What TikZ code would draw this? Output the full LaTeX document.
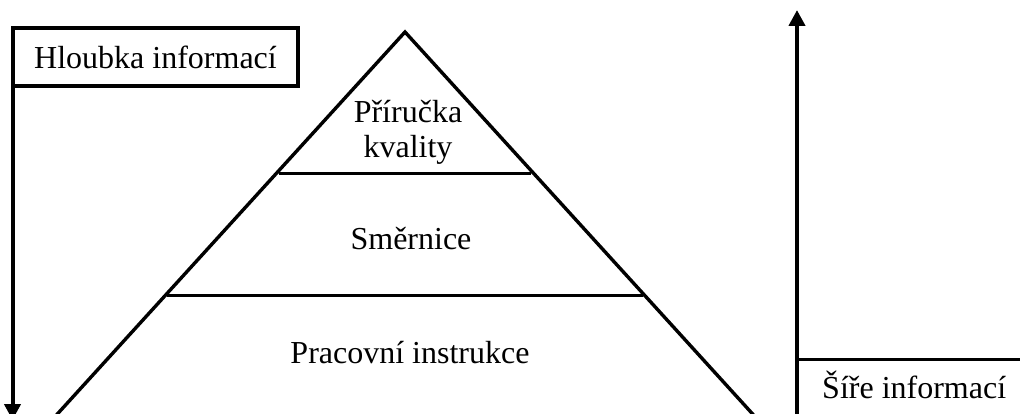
\documentclass[tikz,border=0pt]{standalone}
\usepackage{fontspec}
\setmainfont{Liberation Serif}
\usetikzlibrary{arrows.meta,calc}
\begin{document}
\begin{tikzpicture}[x=1pt,y=-1pt,
  lbl/.style={font=\fontsize{32}{35}\selectfont, inner sep=0pt},
  thick4/.style={line width=4pt},
  tri/.style={line width=3.4pt, line join=miter},
  arr/.style={line width=4pt, -{Triangle[width=16pt,length=16pt]}}]
\useasboundingbox (0,0) rectangle (1020,414);
\clip (0,0) rectangle (1020,414);
% left box and arrow
\node[lbl, draw, thick4, minimum width=285pt, minimum height=58pt, inner sep=0pt] (hl) at (155.5,57) {Hloubka informací};
\coordinate (lstart) at ($(hl.south west)+(1.5,0)$);
\coordinate (lend) at ($(hl.south west)+(1.5,332)$);
\draw[arr] (lstart) -- (lend);
% pyramid
\coordinate (apex) at (405,32);
\coordinate (bl) at (405-0.91*420,452);
\coordinate (br) at (405+0.91*420,452);
\draw[tri] (bl) -- (apex) -- (br);
\coordinate (l1a) at (405-0.91*142+3,174);
\coordinate (l1b) at (405+0.91*142-3,174);
\coordinate (l2a) at (405-0.91*263+1,295);
\coordinate (l2b) at (405+0.91*263-1,295);
\draw[line width=3pt] (l1a) -- (l1b);
\draw[line width=3pt] (l2a) -- (l2b);
\node[lbl, align=center, anchor=base] (pr) at (408,158) {Příručka\\kvality};
\node[lbl, anchor=base] (sm) at (411,250) {Směrnice};
\node[lbl, anchor=base] (pi) at (410,363) {Pracovní instrukce};
% right axis
\coordinate (rbot) at (797,430);
\coordinate (rtop) at (797,10);
\draw[arr] (rbot) -- (rtop);
\coordinate (hlr) at (797,359);
\coordinate (hrr) at (1022,359);
\draw[line width=3pt] (hlr) -- (hrr);
\node[lbl, anchor=base west] (si) at (822,398) {Šíře informací};
\end{tikzpicture}
\end{document}
